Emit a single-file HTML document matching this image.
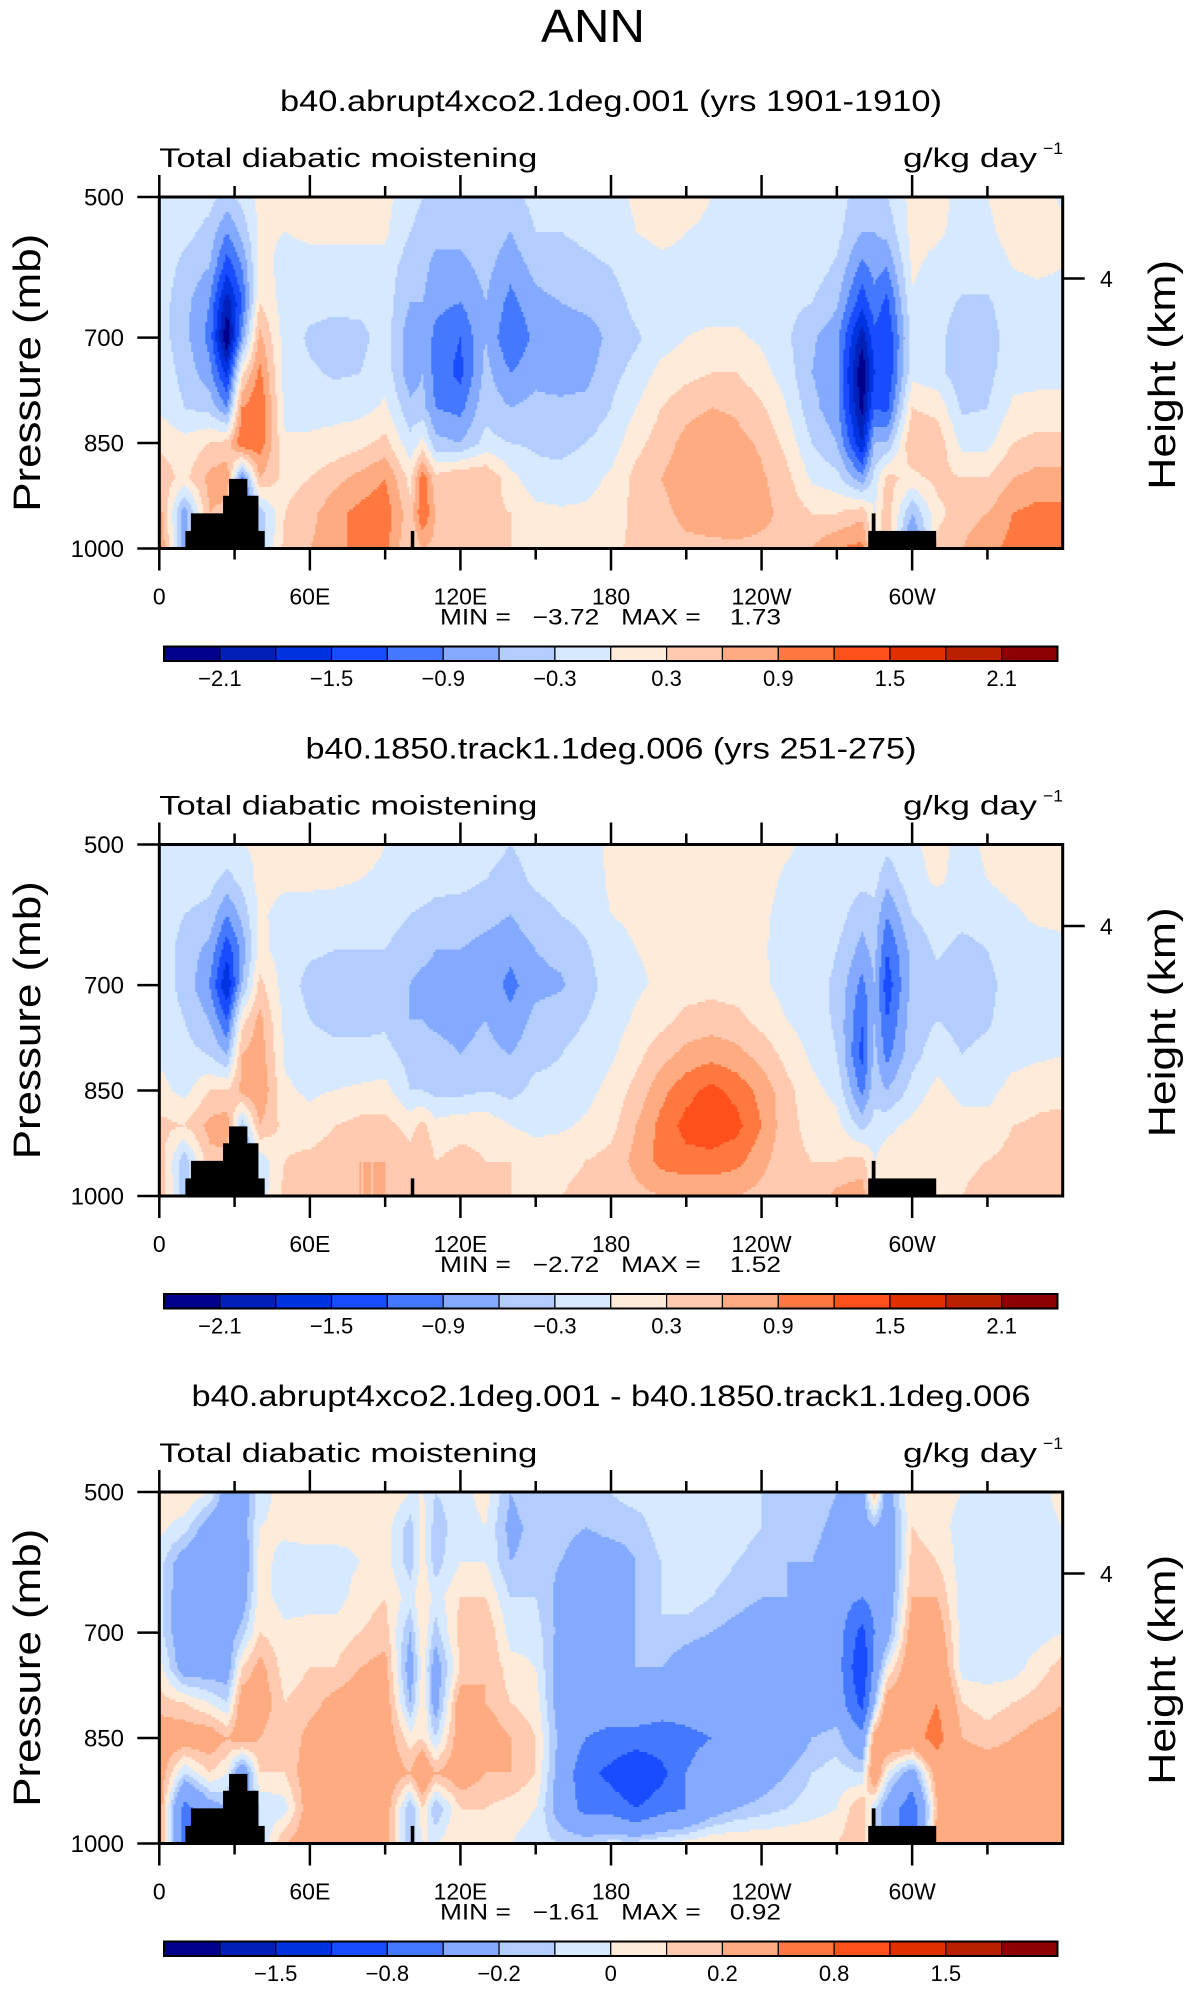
<!DOCTYPE html>
<html><head><meta charset="utf-8"><style>
html,body{margin:0;padding:0;background:#fff;}
svg text{font-family:"Liberation Sans",sans-serif;fill:#000;}
</style></head><body>
<svg id="fig" xmlns="http://www.w3.org/2000/svg" width="1186" height="1987" viewBox="0 0 1186 1987">
<rect width="1186" height="1987" fill="#fff"/>
<text x="593" y="42" font-size="46" text-anchor="middle" textLength="104" lengthAdjust="spacingAndGlyphs" style="font-weight:normal">ANN</text>
</svg>
<script>
// ---- shared data ----
const lons = [0,10,20,27,33,40,50,60,70,80,90,100,105,110,120,130,140,150,160,170,180,190,200,210,220,230,240,250,260,270,280,285,290,300,310,320,330,340,350,360];
const levels = [500,550,600,650,700,750,800,850,900,950,1000];
const xTickLabels = ["0","60E","120E","180","120W","60W"];
const xTickLons = [0,60,120,180,240,300];
const yTickLabels = ["500","700","850","1000"];
const yTickValues = [500,700,850,1000];
// topography blocks: [lonStart, lonEnd, pressureTop]
const topoStart = [10.4,12.6,25.4,27.8,100.2,282.5,283.9];
const topoEnd   = [42.0,25.6,39.5,35.1,101.6,309.6,285.4];
const topoTop   = [975,950,925,901,975,975,950];

const colors = ["#00008c","#0020b8","#0033e0","#1a4cff","#4478ff","#84aaff","#b4cdff","#d6e9ff","#ffebda","#ffcab0","#ffab82","#ff7840","#ff4f1a","#e03000","#b82000","#8c0000"];
const bounds12 = [-2.1,-1.8,-1.5,-1.2,-0.9,-0.6,-0.3,0,0.3,0.6,0.9,1.2,1.5,1.8,2.1];
const bounds3 = [-2,-1.5,-1.2,-0.8,-0.5,-0.2,-0.1,0,0.1,0.2,0.5,0.8,1.2,1.5,2];
const cbLabels12 = ["−2.1","−1.5","−0.9","−0.3","0.3","0.9","1.5","2.1"];
const cbLabels3 = ["−1.5","−0.8","−0.2","0","0.2","0.8","1.5"];

// field values per longitude column (top 500mb -> bottom 1000mb)
const field1 = [
[-0.1,-0.1,-0.1,-0.15,-0.15,-0.1,-0.05,0.25,0.5,0.8,1.0],
[-0.1,-0.2,-0.4,-0.5,-0.5,-0.4,-0.3,0.1,0.2,-0.8,-0.8],
[-0.2,-0.4,-0.6,-0.9,-1.0,-0.8,-0.4,0.3,0.7,0.6,0.5],
[-0.4,-0.9,-1.4,-2.0,-2.4,-1.6,-0.9,0.4,0.8,0.5,0.5],
[-0.2,-0.5,-0.9,-1.2,-0.8,0.2,0.9,1.2,-1.0,-1.4,-1.4],
[0.1,0.05,0.1,0.3,0.7,1.0,1.2,1.1,0.6,-0.5,-0.5],
[0.1,0.0,-0.1,-0.15,-0.15,-0.15,-0.1,0.05,0.2,0.3,0.4],
[0.1,0.05,-0.1,-0.2,-0.35,-0.25,-0.1,0.05,0.3,0.5,0.6],
[0.1,0.05,-0.1,-0.2,-0.45,-0.35,-0.1,0.1,0.5,0.8,0.8],
[0.1,0.05,-0.1,-0.2,-0.4,-0.3,-0.1,0.2,0.7,1.0,1.0],
[0.1,0.05,-0.1,-0.15,-0.15,-0.1,0.05,0.4,0.9,1.1,1.0],
[-0.2,-0.3,-0.5,-0.6,-0.8,-0.8,-0.5,-0.2,0.2,0.4,0.3],
[-0.3,-0.4,-0.5,-0.6,-0.6,-0.6,-0.5,0.1,1.1,1.2,0.6],
[-0.4,-0.5,-0.7,-0.8,-1.0,-1.0,-0.9,-0.5,0.4,0.6,0.5],
[-0.4,-0.5,-0.7,-0.9,-1.2,-1.3,-1.0,-0.6,0.6,0.5,0.3],
[-0.3,-0.4,-0.5,-0.6,-0.6,-0.5,-0.4,-0.2,0.6,0.4,0.4],
[-0.4,-0.6,-0.8,-1.0,-1.2,-0.9,-0.6,-0.3,0.1,0.3,0.3],
[-0.2,-0.3,-0.5,-0.7,-0.8,-0.7,-0.5,-0.35,-0.2,0.1,0.2],
[-0.2,-0.3,-0.4,-0.6,-0.85,-0.8,-0.5,-0.4,-0.2,0.05,0.1],
[-0.15,-0.25,-0.35,-0.5,-0.8,-0.7,-0.5,-0.3,-0.1,0.05,0.1],
[-0.1,-0.2,-0.3,-0.45,-0.5,-0.4,-0.3,-0.15,0.05,0.1,0.2],
[0.05,0.0,-0.1,-0.2,-0.35,-0.2,0.0,0.2,0.4,0.4,0.4],
[0.1,0.05,-0.05,-0.1,-0.15,0.1,0.3,0.45,0.6,0.5,0.4],
[0.1,0.0,-0.05,-0.1,0.0,0.2,0.5,0.7,0.8,0.7,0.5],
[0.0,-0.05,-0.1,-0.1,0.05,0.3,0.6,0.85,0.9,0.8,0.5],
[-0.05,-0.1,-0.1,-0.1,0.05,0.3,0.55,0.7,0.8,0.9,0.5],
[-0.1,-0.1,-0.1,-0.15,-0.05,0.1,0.35,0.55,0.65,0.7,0.5],
[-0.1,-0.1,-0.1,-0.2,-0.25,-0.15,0.0,0.2,0.4,0.5,0.5],
[-0.1,-0.1,-0.15,-0.3,-0.55,-0.6,-0.5,-0.3,-0.05,0.3,0.6],
[-0.2,-0.2,-0.35,-0.55,-0.8,-0.8,-0.8,-0.6,-0.2,0.3,0.9],
[-0.4,-0.6,-1.0,-1.4,-2.0,-2.4,-2.2,-1.8,-0.8,0.5,1.0],
[-0.5,-0.6,-0.8,-1.0,-1.3,-1.5,-1.2,-0.6,-0.2,0.0,0.0],
[-0.3,-0.5,-0.9,-1.3,-1.5,-1.5,-1.3,-0.6,0.4,0.5,0.5],
[0.1,0.1,0.05,-0.05,-0.2,-0.1,0.3,0.6,0.2,-0.6,-1.2],
[0.1,0.05,-0.1,-0.15,-0.2,-0.2,0.2,0.5,0.4,0.2,0.4],
[-0.1,-0.1,-0.15,-0.35,-0.5,-0.5,-0.35,-0.1,0.3,0.5,0.6],
[0.0,-0.05,-0.15,-0.35,-0.45,-0.4,-0.3,-0.1,0.3,0.6,0.8],
[0.1,0.1,0.0,-0.1,-0.15,-0.1,0.05,0.3,0.6,0.9,1.0],
[0.1,0.1,0.05,-0.1,-0.15,-0.1,0.1,0.4,0.7,1.0,1.1],
[-0.05,0.1,0.0,-0.1,-0.15,-0.1,0.1,0.4,0.7,1.0,1.1]
];
const field2 = [
[-0.05,-0.1,-0.15,-0.15,-0.15,-0.1,-0.05,0.1,0.4,0.5,0.6],
[-0.1,-0.15,-0.3,-0.4,-0.4,-0.3,-0.2,-0.1,0.3,-0.5,-0.5],
[-0.05,-0.2,-0.4,-0.7,-0.9,-0.6,-0.3,0.3,0.7,0.5,0.5],
[-0.1,-0.4,-0.9,-1.4,-1.8,-1.2,-0.6,0.3,0.8,0.5,0.5],
[0.0,-0.2,-0.5,-0.8,-0.6,0.2,0.6,0.7,-0.5,-1.0,-1.0],
[0.05,0.1,0.05,0.1,0.4,0.7,0.8,0.9,0.6,-0.2,-0.2],
[0.05,0.05,-0.1,-0.15,-0.15,-0.1,-0.05,0.05,0.2,0.3,0.4],
[0.1,0.05,-0.1,-0.25,-0.4,-0.3,-0.15,-0.05,0.1,0.4,0.5],
[0.1,0.05,-0.15,-0.3,-0.45,-0.4,-0.2,0.0,0.3,0.5,0.5],
[0.1,0.0,-0.15,-0.3,-0.4,-0.4,-0.2,0.05,0.4,0.6,0.6],
[0.0,-0.05,-0.15,-0.3,-0.4,-0.35,-0.2,0.1,0.4,0.6,0.6],
[-0.1,-0.15,-0.3,-0.5,-0.6,-0.6,-0.4,-0.3,0.2,0.4,0.3],
[-0.1,-0.15,-0.35,-0.5,-0.7,-0.6,-0.5,-0.3,0.4,0.6,0.4],
[-0.15,-0.2,-0.4,-0.6,-0.7,-0.65,-0.5,-0.4,0.1,0.3,0.4],
[-0.15,-0.2,-0.45,-0.6,-0.9,-0.7,-0.6,-0.4,0.2,0.4,0.4],
[-0.2,-0.3,-0.5,-0.7,-0.7,-0.6,-0.5,-0.3,0.2,0.3,0.3],
[-0.3,-0.4,-0.6,-0.8,-1.0,-0.8,-0.6,-0.4,0.0,0.3,0.3],
[-0.2,-0.25,-0.4,-0.6,-0.7,-0.5,-0.4,-0.2,-0.1,0.2,0.3],
[-0.15,-0.2,-0.3,-0.5,-0.65,-0.4,-0.3,-0.2,-0.05,0.2,0.3],
[-0.1,-0.15,-0.2,-0.35,-0.4,-0.3,-0.2,-0.1,0.05,0.3,0.4],
[0.05,0.05,0.0,-0.1,-0.2,-0.15,-0.05,0.1,0.2,0.4,0.4],
[0.1,0.1,0.05,0.0,-0.05,0.05,0.2,0.4,0.6,0.7,0.5],
[0.1,0.1,0.1,0.05,0.05,0.2,0.5,0.8,1.0,1.0,0.6],
[0.1,0.1,0.1,0.1,0.15,0.4,0.7,1.1,1.3,1.1,0.6],
[0.1,0.1,0.1,0.1,0.2,0.45,0.8,1.3,1.4,1.1,0.6],
[0.1,0.1,0.1,0.1,0.15,0.4,0.7,1.1,1.3,1.0,0.6],
[0.1,0.1,0.05,0.05,0.05,0.2,0.5,0.8,0.9,0.7,0.5],
[0.05,-0.05,-0.1,-0.15,-0.1,0.0,0.2,0.4,0.4,0.4,0.4],
[-0.1,-0.1,-0.15,-0.15,-0.2,-0.15,-0.05,0.1,0.2,0.3,0.4],
[-0.1,-0.1,-0.15,-0.3,-0.35,-0.35,-0.3,-0.1,0.1,0.3,0.7],
[-0.1,-0.2,-0.5,-0.7,-1.0,-1.2,-1.3,-1.0,-0.4,0.4,0.8],
[-0.1,-0.2,-0.4,-0.5,-0.6,-0.6,-0.5,-0.4,-0.2,0.0,0.0],
[-0.2,-0.5,-0.9,-1.2,-1.4,-1.2,-1.0,-0.6,-0.1,0.2,0.4],
[-0.05,-0.1,-0.3,-0.5,-0.5,-0.45,-0.4,-0.2,0.1,0.1,0.2],
[0.1,0.05,-0.15,-0.25,-0.4,-0.3,-0.15,0.1,0.3,0.3,0.3],
[-0.1,-0.1,-0.2,-0.4,-0.45,-0.4,-0.3,-0.1,0.1,0.25,0.3],
[0.05,0.0,-0.15,-0.3,-0.4,-0.35,-0.2,-0.1,0.1,0.3,0.4],
[0.1,0.1,-0.05,-0.1,-0.15,-0.1,-0.1,0.1,0.3,0.4,0.5],
[0.1,0.1,0.05,-0.1,-0.15,-0.1,-0.05,0.2,0.35,0.45,0.5],
[0.1,0.1,0.05,-0.05,-0.1,-0.1,0.0,0.2,0.4,0.5,0.6]
];
const field3 = [
[0.05,0.03,-0.05,-0.05,-0.05,0.05,0.15,0.3,0.3,0.3,0.3],
[0.1,-0.05,-0.3,-0.35,-0.35,-0.3,0.1,0.3,-0.1,-0.6,-0.6],
[0.0,-0.3,-0.35,-0.4,-0.35,-0.3,0.0,0.3,0.1,-0.3,-0.3],
[-0.3,-0.35,-0.35,-0.35,-0.3,-0.3,-0.1,0.2,0.0,-0.2,-0.2],
[-0.3,-0.3,-0.35,-0.3,-0.15,0.1,0.3,0.3,-0.4,-0.3,-0.3],
[-0.05,0.0,0.05,0.05,0.1,0.25,0.3,0.2,0.1,-0.1,-0.1],
[0.05,0.03,-0.05,-0.05,0.03,0.05,0.1,0.1,0.1,-0.05,0.2],
[0.1,0.05,-0.05,-0.05,0.05,0.1,0.15,0.25,0.3,0.3,0.3],
[0.1,0.05,-0.05,-0.05,0.05,0.1,0.25,0.3,0.3,0.3,0.3],
[0.05,0.03,0.0,0.05,0.1,0.2,0.3,0.3,0.3,0.3,0.3],
[0.1,0.05,0.05,0.1,0.15,0.25,0.3,0.3,0.3,0.3,0.3],
[0.0,-0.15,-0.15,-0.05,-0.2,-0.3,-0.2,0.05,0.2,-0.2,-0.2],
[0.0,0.05,0.05,0.1,0.1,0.05,0.1,0.1,0.4,0.1,0.0],
[-0.1,-0.15,-0.15,-0.05,-0.15,-0.3,-0.3,-0.1,0.2,-0.2,0.0],
[-0.05,-0.05,0.0,0.1,0.15,0.1,0.3,0.3,0.3,0.1,0.1],
[0.05,0.0,0.0,0.1,0.2,0.2,0.2,0.3,0.2,0.1,0.05],
[-0.2,-0.25,-0.2,-0.1,-0.05,0.05,0.1,0.2,0.2,0.05,0.0],
[-0.1,-0.15,-0.15,-0.1,-0.05,0.0,0.05,0.1,0.1,0.0,-0.05],
[-0.15,-0.15,-0.2,-0.25,-0.25,-0.3,-0.3,-0.25,-0.3,-0.3,-0.1],
[-0.15,-0.2,-0.3,-0.35,-0.35,-0.35,-0.4,-0.5,-0.7,-0.6,-0.1],
[-0.1,-0.15,-0.3,-0.35,-0.35,-0.35,-0.4,-0.55,-0.9,-0.6,-0.05],
[-0.05,-0.15,-0.2,-0.2,-0.2,-0.2,-0.3,-0.6,-1.2,-0.8,-0.05],
[-0.05,-0.05,-0.1,-0.1,-0.1,-0.2,-0.4,-0.6,-0.9,-0.6,0.0],
[-0.05,-0.05,-0.05,-0.05,-0.15,-0.3,-0.4,-0.55,-0.5,-0.5,0.05],
[-0.05,-0.05,-0.05,-0.1,-0.2,-0.35,-0.4,-0.5,-0.4,-0.3,0.1],
[-0.05,-0.05,-0.1,-0.15,-0.25,-0.35,-0.45,-0.45,-0.4,-0.2,0.1],
[-0.1,-0.1,-0.15,-0.2,-0.3,-0.4,-0.45,-0.4,-0.3,-0.15,0.1],
[-0.1,-0.15,-0.2,-0.2,-0.35,-0.4,-0.4,-0.35,-0.2,-0.1,0.1],
[-0.1,-0.15,-0.2,-0.25,-0.35,-0.35,-0.35,-0.2,-0.1,-0.05,0.1],
[-0.2,-0.25,-0.3,-0.35,-0.35,-0.35,-0.3,-0.15,-0.05,0.0,0.1],
[-0.3,-0.3,-0.35,-0.5,-0.9,-1.1,-0.9,-0.4,-0.1,0.2,0.2],
[0.2,-0.2,-0.3,-0.4,-0.5,-0.4,-0.2,0.3,0.4,-0.1,-0.1],
[-0.3,-0.35,-0.4,-0.35,-0.3,0.0,0.3,0.4,0.0,-0.3,-0.3],
[0.1,0.1,0.15,0.2,0.3,0.35,0.35,0.4,-0.3,-0.7,-0.7],
[0.05,0.05,0.1,0.2,0.3,0.4,0.5,0.6,0.3,0.2,0.3],
[0.0,-0.05,-0.05,-0.05,-0.05,-0.05,0.1,0.2,0.3,0.3,0.3],
[-0.05,-0.05,-0.1,-0.1,-0.05,-0.05,0.05,0.15,0.3,0.3,0.3],
[-0.05,-0.05,-0.05,-0.1,-0.05,-0.05,0.1,0.2,0.3,0.3,0.3],
[-0.05,-0.05,-0.05,-0.05,-0.05,0.05,0.15,0.25,0.3,0.3,0.3],
[0.05,0.0,-0.1,-0.1,0.0,0.15,0.2,0.25,0.3,0.3,0.3]
];
const titles = ["b40.abrupt4xco2.1deg.001 (yrs 1901-1910)","b40.1850.track1.1deg.006 (yrs 251-275)","b40.abrupt4xco2.1deg.001 - b40.1850.track1.1deg.006"];
const titleWidths = [662,611,839];
const minVals = ["−3.72","−2.72","−1.61"];
const maxVals = ["1.73","1.52","0.92"];

// ---- layout ----
const NS = "http://www.w3.org/2000/svg";
const svg = document.getElementById("fig");
const L = 159.3, W = 903.4, H = 351.5;
const tops = [197, 844.5, 1492];
function mk(tag, attrs, parent){const e=document.createElementNS(NS,tag);for(const k in attrs)e.setAttribute(k,attrs[k]);(parent||svg).appendChild(e);return e;}
function xScale(lon){return L + W*lon/360;}
function yScale(top,p){return top + H*(p-500)/500;}
function sample(field, lon, p){
  let i=0; while(i<lons.length-2 && lon>lons[i+1]) i++;
  const tx=Math.min(1,Math.max(0,(lon-lons[i])/(lons[i+1]-lons[i])));
  let fj=(p-500)/50; let j=Math.min(levels.length-2,Math.max(0,Math.floor(fj))); const ty=Math.min(1,Math.max(0,fj-j));
  const a=field[i][j],b=field[i+1][j],c=field[i][j+1],d=field[i+1][j+1];
  return (a*(1-tx)+b*tx)*(1-ty)+(c*(1-tx)+d*tx)*ty;
}
function bin(v,bounds){let k=0;while(k<bounds.length&&v>=bounds[k])k++;return k;}

const fields=[field1,field2,field3];
const boundsList=[bounds12,bounds12,bounds3];
const cbLabelList=[cbLabels12,cbLabels12,cbLabels3];

fields.forEach((field,pi)=>{
  const top=tops[pi];
  const g=mk("g",{});
  
  
  const clip=mk("clipPath",{id:"clip"+pi},g); mk("rect",{x:L,y:top,width:W,height:H},clip);
  const fg=mk("g",{"clip-path":"url(#clip"+pi+")"},g);
  
  
  const dy=2.5, dx=2;
  for(let y=top;y<top+H;y+=dy){
    const p=500+500*(y+dy/2-top)/H;
    let runStart=L, runBin=-1;
    for(let x=L;x<=L+W+dx;x+=dx){
      const lon=360*(x+dx/2-L)/W;
      const b=(x>L+W)?-2:bin(sample(field,Math.min(360,lon),p),boundsList[pi]);
      if(b!==runBin){
        if(runBin>=0){
          const r=mk("rect",{x:runStart.toFixed(1),y:y.toFixed(1),width:(x-runStart+0.6).toFixed(1),height:dy+0.6,fill:colors[runBin]},fg);
          
          
        }
        runStart=x; runBin=b;
      }
    }
  }
  // topography
  topoStart.forEach((s,k)=>{
    const r=mk("rect",{x:xScale(s),y:yScale(top,topoTop[k]),width:xScale(topoEnd[k])-xScale(s),height:yScale(top,1000)-yScale(top,topoTop[k]),fill:"#000"},fg);
    
    
  });
  // frame
  const fr=mk("rect",{x:L,y:top,width:W,height:H,fill:"none",stroke:"#000","stroke-width":3},g);
  
  
  // x ticks
  for(let lon=0;lon<=330;lon+=30){
    const x=xScale(lon), len=(lon%60===0)?22:11;
    mk("line",{x1:x,y1:top,x2:x,y2:top-len,stroke:"#000","stroke-width":2.5},g);
    mk("line",{x1:x,y1:top+H,x2:x,y2:top+H+len,stroke:"#000","stroke-width":2.5},g);
  }
  xTickLabels.forEach((t,k)=>{
    const e=mk("text",{x:xScale(xTickLons[k]),y:top+H+56,"font-size":23,"text-anchor":"middle"},g);
    e.textContent=t;
    
    
  });
  yTickLabels.forEach((t,k)=>{
    const y=yScale(top,yTickValues[k]);
    mk("line",{x1:L-22,y1:y,x2:L,y2:y,stroke:"#000","stroke-width":2.5},g);
    const e=mk("text",{x:124,y:y+8.5,"font-size":24,"text-anchor":"end"},g);
    e.textContent=t;
    
    
  });
  const y4=yScale(top,616);
  mk("line",{x1:L+W,y1:y4,x2:L+W+22,y2:y4,stroke:"#000","stroke-width":2.5},g);
  const h4=mk("text",{x:1100,y:y4+8.5,"font-size":23},g); h4.textContent="4";
  
  
  // titles
  const tt=mk("text",{x:611,y:top-86,"font-size":30,"text-anchor":"middle",textLength:titleWidths[pi],lengthAdjust:"spacingAndGlyphs"},g);
  tt.textContent=titles[pi];
  
  
  const lt=mk("text",{x:L,y:top-30,"font-size":27,textLength:378,lengthAdjust:"spacingAndGlyphs"},g);
  lt.textContent="Total diabatic moistening";
  
  
  const ut=mk("text",{x:903,y:top-30,"font-size":27,textLength:134,lengthAdjust:"spacingAndGlyphs"},g);
  ut.textContent="g/kg day";
  
  
  const us=mk("text",{x:1043,y:top-43,"font-size":17,textLength:20,lengthAdjust:"spacingAndGlyphs"},g);
  us.textContent="−1";
  
  
  const ya=mk("text",{x:0,y:0,"font-size":38,"text-anchor":"middle",textLength:278,lengthAdjust:"spacingAndGlyphs",transform:"translate(40,"+(top+H/2)+") rotate(-90)"},g);
  ya.textContent="Pressure (mb)";
  
  
  const ha=mk("text",{x:0,y:0,"font-size":38,"text-anchor":"middle",textLength:230,lengthAdjust:"spacingAndGlyphs",transform:"translate(1175,"+(top+H/2+2)+") rotate(-90)"},g);
  ha.textContent="Height (km)";
  
  
  const mm=mk("text",{x:440,y:top+H+76,"font-size":22,textLength:341,lengthAdjust:"spacingAndGlyphs","xml:space":"preserve"},g);
  mm.setAttribute("style","white-space:pre");
  mm.textContent="MIN =   "+minVals[pi]+"   MAX =    "+maxVals[pi];
  
  
  // colorbar
  const cbX=164, cbW=893.5, cbY=top+449.5, cbH=14.5, bw=cbW/colors.length;
  colors.forEach((c,k)=>{
    const r=mk("rect",{x:cbX+k*bw,y:cbY,width:bw,height:cbH,fill:c,stroke:"#000","stroke-width":1.2},g);
    
    
  });
  mk("rect",{x:cbX,y:cbY,width:cbW,height:cbH,fill:"none",stroke:"#000","stroke-width":2},g);
  const labs=cbLabelList[pi];
  labs.forEach((t,k)=>{
    const bi = pi<2 ? 1+2*k : 2+2*k;
    const e=mk("text",{x:cbX+bi*bw,y:cbY+cbH+25,"font-size":22,"text-anchor":"middle"},g);
    e.textContent=t;
    
    
  });
});
</script>
</body></html>
